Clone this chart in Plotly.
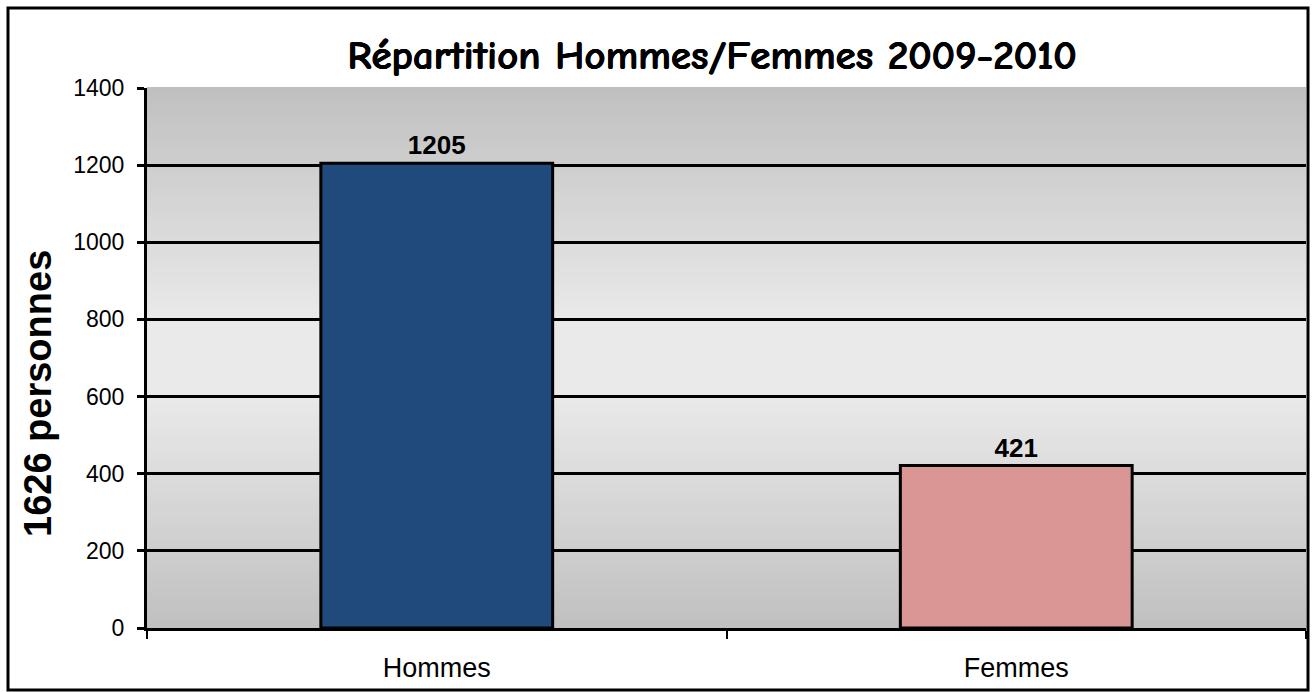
import plotly.graph_objects as go

categories = ["Hommes", "Femmes"]
values = [1205, 421]
bar_colors = ["#204A7C", "#D99694"]
title_text = "Répartition Hommes/Femmes 2009-2010"
y_title = "1626 personnes"
y_ticks = [0, 200, 400, 600, 800, 1000, 1200, 1400]

W, H = 1312, 692
ML, MR, MT, MB = 147, 6, 88, 64

fig = go.Figure()
fig.add_trace(go.Bar(
    x=categories, y=values, width=0.4,
    marker=dict(color=bar_colors, line=dict(color="black", width=3)),
    text=[str(v) for v in values], textposition="outside",
    textfont=dict(family="Liberation Sans, Arial", size=26, color="black", weight="bold"),
    cliponaxis=False,
))

# gradient background stripes (dark -> light -> dark)
shapes = []
n = 120
def lerp(a, b, t):
    return int(round(a + (b - a) * t))
for i in range(n):
    y0 = i / n
    y1 = (i + 1) / n
    c = (y0 + y1) / 2
    t = 1 - abs(c - 0.5) / 0.5
    t = min(1.0, t * 1.15)
    g = lerp(0xC0, 0xEA, t)
    shapes.append(dict(type="rect", xref="x domain", yref="y domain",
                       x0=0, x1=1, y0=y0, y1=y1 + 0.002, layer="below",
                       line=dict(width=0), fillcolor=f"rgb({g},{g},{g})"))
pw = W - ML - MR
ph = H - MT - MB
shapes.append(dict(type="rect", xref="paper", yref="paper",
                   x0=(8 - ML) / pw, x1=(1308 - ML) / pw,
                   y0=(H - MB - 690) / ph, y1=(H - MB - 8) / ph,
                   line=dict(color="black", width=3), fillcolor="rgba(0,0,0,0)",
                   layer="above"))

fig.update_layout(
    width=W, height=H,
    margin=dict(l=ML, r=MR, t=MT, b=MB),
    paper_bgcolor="white", plot_bgcolor="#C0C0C0",
    showlegend=False, bargap=0.6,
    shapes=shapes,
    title=dict(text="<b>" + title_text + "</b>", x=(712) / W, xanchor="center", y=1 - 55 / H, yanchor="middle",
               font=dict(family="Comic Sans MS, Comic Neue, Lato, sans-serif", size=41, color="black",
                         shadow="0.6px 0 0 black, -0.3px 0 0 black")),
    xaxis=dict(showline=True, linecolor="black", linewidth=3, ticks="outside", tickson="boundaries",
               ticklen=8, tickwidth=2, tickcolor="black", showgrid=False, ticklabelstandoff=14,
               tickfont=dict(family="Liberation Sans, Arial", size=27, color="black")),
    yaxis=dict(range=[0, 1400], tickvals=y_ticks, showline=True, linecolor="black", linewidth=3,
               ticks="outside", ticklen=7, tickwidth=3, tickcolor="black", ticklabelstandoff=8,
               showgrid=True, gridcolor="black", gridwidth=3, zeroline=False,
               tickfont=dict(family="Liberation Sans, Arial", size=23, color="black")),
    annotations=[dict(text="<b>" + y_title + "</b>", textangle=-90, showarrow=False,
                      xref="paper", yref="paper", x=(38 - ML) / pw, y=(H - MB - 394) / ph,
                      xanchor="center", yanchor="middle",
                      font=dict(family="Liberation Sans, Arial", size=38, color="black"))],
)
fig.write_html("out.html", config={"displayModeBar": False},
               post_script="document.body.style.margin='0';")
